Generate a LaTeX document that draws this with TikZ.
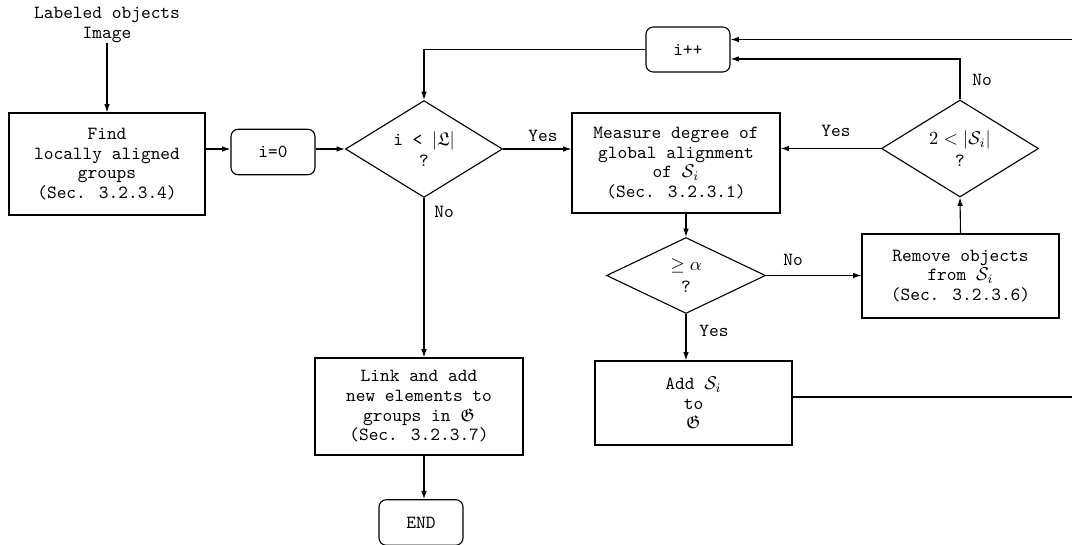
\documentclass[tikz,border=0pt]{standalone}
\usepackage{amsmath,amssymb}
\usetikzlibrary{shapes.geometric,arrows.meta}
\begin{document}
\begin{tikzpicture}[x=0.54pt,y=-0.54pt,
  every node/.style={font=\ttfamily\fontsize{10}{10.6}\selectfont},
  procbox/.style={draw,line width=0.6pt,rectangle,align=center,inner sep=0pt},
  termbox/.style={draw,line width=0.6pt,rectangle,rounded corners=4pt,align=center,inner sep=0pt,minimum width=45.4pt,minimum height=24.6pt},
  decbox/.style={draw,line width=0.6pt,diamond,align=center,inner sep=0pt,minimum width=84.8pt,minimum height=41pt},
  arr/.style={line width=0.6pt,-{Latex[length=4.5pt,width=3pt]}},
  ln/.style={line width=0.6pt},
  lbl/.style={inner sep=0pt}]
\useasboundingbox (0,0) rectangle (1072,544);
\clip (0,0) rectangle (1072,544);

\node[align=center,inner sep=0pt] (in) at (107,25) {Labeled objects\\Image};
\node[procbox,minimum width=105.8pt,minimum height=55.1pt] (find) at (107,164) {Find\\locally aligned\\groups\\(Sec. 3.2.3.4)};
\node[termbox] (i0) at (273,152) {i=0};
\node[decbox] (d1) at (424,149) {i < $|\mathfrak{L}|$\\[1pt]?};
\node[termbox,minimum height=24.3pt] (ipp) at (688,49.5) {i++};
\node[procbox,minimum width=112.3pt,minimum height=54pt] (meas) at (676,163) {Measure degree of\\global alignment\\of $\mathcal{S}_i$\\(Sec. 3.2.3.1)};
\node[decbox] (d2) at (960,148.5) {$2<|\mathcal{S}_i|$\\[1pt]?};
\node[decbox,minimum width=85.9pt] (d3) at (686,275.5) {$\geq\alpha$\\[1pt]?};
\node[procbox,minimum width=106.4pt,minimum height=45.4pt] (rem) at (960.5,276) {Remove objects\\from $\mathcal{S}_i$\\(Sec. 3.2.3.6)};
\node[procbox,minimum width=106.4pt,minimum height=45.4pt] (add) at (693.5,403) {Add $\mathcal{S}_i$\\to\\$\mathfrak{G}$};
\node[procbox,minimum width=112.3pt,minimum height=52.4pt] (link) at (419,406.5) {Link and add\\new elements to\\groups in $\mathfrak{G}$\\(Sec. 3.2.3.7)};
\node[termbox] (end) at (421,522.5) {END};

\node[lbl] (y1) at (543,136) {Yes};
\node[lbl] (n1) at (444,212) {No};
\node[lbl] (y2) at (836,131) {Yes};
\node[lbl] (n2) at (982,80) {No};
\node[lbl] (n3) at (793,260) {No};
\node[lbl] (y3) at (714,331) {Yes};

\coordinate (rt) at (1090,397);

\draw[arr] (in.south) -- (find.north);
\draw[arr] (find.east |- d1.west) -- (i0.west |- d1.west);
\draw[arr] (i0.east |- d1.west) -- (d1.west);
\draw[arr] (d1.east) -- (d1.east -| meas.west);
\draw[arr] (ipp.west) -| (d1.north);
\draw[arr] (d1.south) -- (d1.south |- link.north);
\draw[arr] (d1.south |- link.south) -- (d1.south |- end.north);
\draw[arr] (d3.north |- meas.south) -- (d3.north);
\draw[arr] (d3.east) -- (rem.west |- d3.east);
\draw[arr] (d3.south) -- (d3.south |- add.north);
\draw[arr] (rem.north) -- (d2.south);
\draw[arr] (d2.west) -- (d2.west -| meas.east);
\draw[arr] (d2.north) |- ([yshift=-5.1pt]ipp.east);
\draw[arr] (add.east |- rt) -- (rt) |- ([yshift=5.4pt]ipp.east);
\end{tikzpicture}
\end{document}
